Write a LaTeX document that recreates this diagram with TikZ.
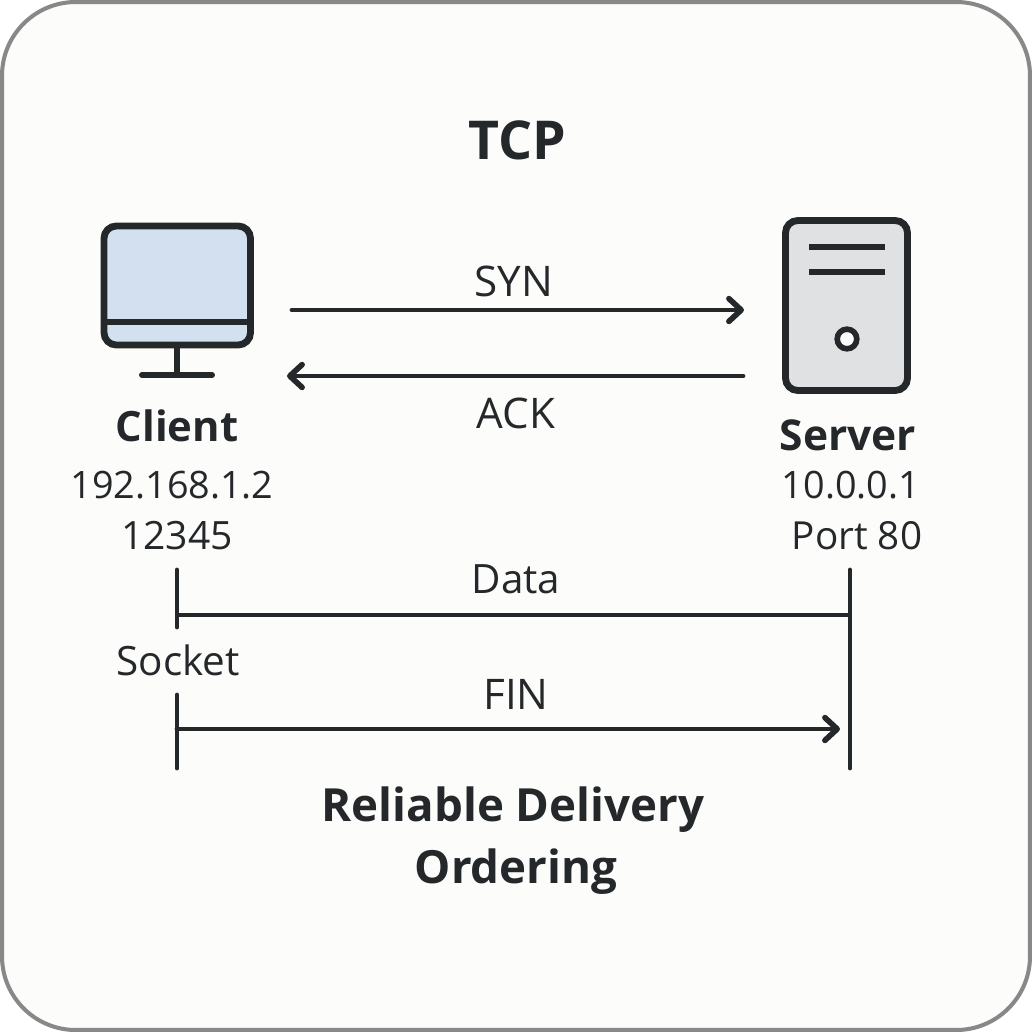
\documentclass[tikz,border=0pt]{standalone}
\usepackage{fontspec}
\setmainfont{Open Sans}
\usetikzlibrary{arrows.meta}
\definecolor{inkcol}{HTML}{25282B}
\definecolor{papercol}{HTML}{FCFCFB}
\definecolor{rimcol}{HTML}{888888}
\definecolor{screencol}{HTML}{D3E0EF}
\definecolor{towercol}{HTML}{DFE1E3}
\tikzset{
  pixgrid/.style={x=0.02cm,y=-0.02cm},
  iconbox/.style={draw=inkcol,line width=3.9pt,rounded corners=7pt},
  iconbar/.style={draw=inkcol,line width=3.4pt},
  msgline/.style={draw=inkcol,line width=2.8pt},
  msgtip/.style={-{Straight Barb[length=7pt,width=13pt,line width=3.2pt,round]}},
  hostinfo/.style={text=inkcol,inner sep=0pt,font=\fontsize{\fsz}{\fsz}\selectfont},
  bigtext/.style={text=inkcol,inner sep=0pt,font=\fontsize{\fsz}{\fsz}\selectfont\bfseries},
}
\begin{document}
\begin{tikzpicture}[pixgrid]
  \useasboundingbox (0,0) rectangle (1032,1032);

  %card
  \draw[rimcol,fill=papercol,line width=2.3pt,rounded corners=42pt] (2,2) rectangle (1030,1030);

  %client
  \draw[iconbox,fill=screencol] (104,226) rectangle (250.5,345);
  \draw[iconbar] (104,322) -- (250.5,322);
  \draw[iconbar] (177,345) -- (177,375);
  \draw[iconbar,line cap=round] (142,375) -- (212,375);

  %server
  \draw[iconbox,fill=towercol] (785.5,220.5) rectangle (907.5,390.5);
  \foreach \y in {247,272}{
    \draw[iconbar] (809,\y) -- (885,\y);
  }
  \draw[draw=inkcol,fill=papercol,line width=3.2pt] (847,339) circle[radius=9.8];

  %labels
  \foreach \x/\y/\txt/\nm/\sty/\fsz in {
     517/140/TCP/title/bigtext/30.5,
     177/426/Client/client/bigtext/23.8,
     848/435/Server/server/bigtext/24.2,
     172/485/192.168.1.2/cip/hostinfo/21.5,
     177/536/12345/cport/hostinfo/22.2,
     851/485/10.0.0.1/sip/hostinfo/21.5,
     857/536/Port 80/sport/hostinfo/22,
     178/660/Socket/sock/hostinfo/23,
     514/281/SYN/syn/hostinfo/24,
     516/413/ACK/ack/hostinfo/24,
     516/579/Data/data/hostinfo/23,
     516/694/FIN/fin/hostinfo/24,
     513/810/Reliable Delivery/rel/bigtext/26,
     516/872/Ordering/ord/bigtext/26}{
    \node[\sty] (\nm) at (\x,\y) {\txt};
  }

  %ends of the lines
  \foreach \nm/\x/\y in {
     a/292/310, b/744/310, c/743/376, d/287/376,
     e/177/615, f/850/615, g/177/729, h/840/729,
     l1/177/570, l2/177/627, l3/177/695, l4/177/768,
     r1/850/570, r2/850/768}{
    \coordinate (\nm) at (\x,\y);
  }

  \draw[msgline,msgtip,line cap=round] (a) -- (b);
  \draw[msgline,msgtip,line cap=round] (c) -- (d);
  \draw[msgline,msgtip,line cap=round] (g) -- (h);
  \draw[msgline] (e) -- (f);
  \draw[msgline,line cap=round] (l1) -- (l2);
  \draw[msgline,line cap=round] (l3) -- (l4);
  \draw[msgline,line cap=round] (r1) -- (r2);
\end{tikzpicture}
\end{document}
